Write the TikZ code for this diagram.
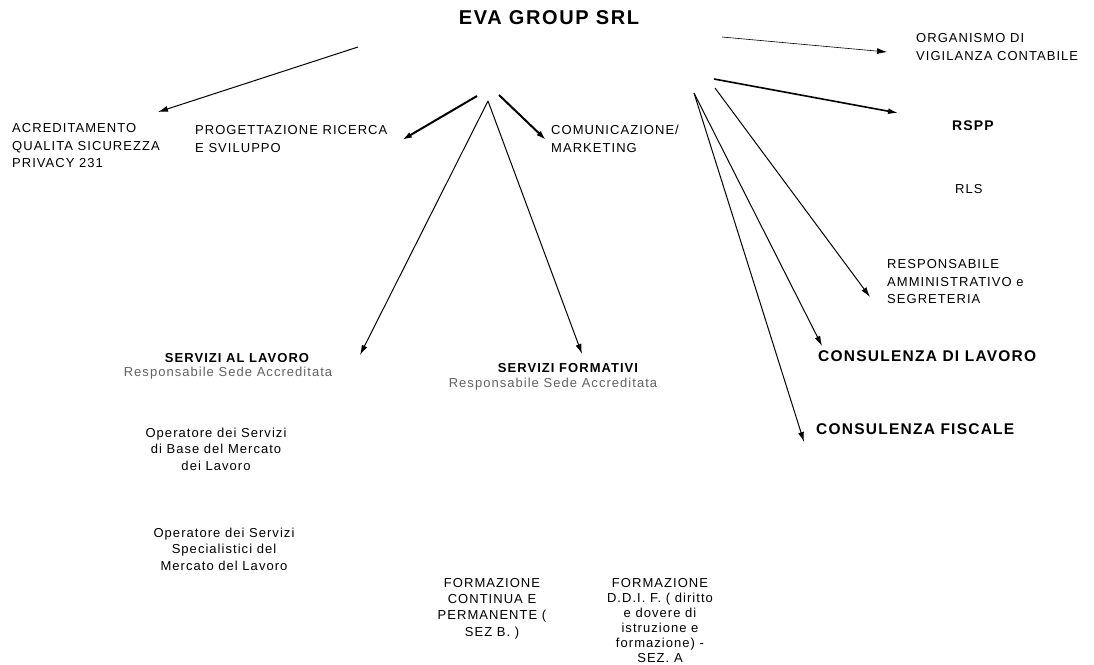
\documentclass[tikz,border=0pt]{standalone}
\usepackage{fontspec}
\setmainfont{Liberation Sans}[LetterSpace=8]
\usetikzlibrary{positioning, arrows.meta}

\tikzset{
  unit/.style={font=\fontsize{13}{17.8}\selectfont, inner sep=0pt, align=left, anchor=north west},
  block/.style={font=\fontsize{13}{16.3}\selectfont, inner sep=0pt, align=center, anchor=north},
  head/.style={font=\bfseries\fontsize{13}{15}\selectfont, inner sep=0pt},
  sub/.style={font=\fontsize{13}{15}\selectfont, inner sep=0pt, text=black!62},
  conn/.style={line width=1pt, -{Latex[length=10pt,width=6pt]}},
}

\begin{document}
\begin{tikzpicture}[x=1pt,y=-1pt]
\useasboundingbox (0,0) rectangle (1094,664);

% top
\node[inner sep=0pt, font=\bfseries\fontsize{20}{22}\selectfont] (eva) at (549,18) {EVA GROUP SRL};

% staff units
\node[unit] (acr) at (12,123) {ACREDITAMENTO\\QUALITA SICUREZZA\\PRIVACY 231};
\node[unit] (prog) at (195,125) {PROGETTAZIONE RICERCA\\E SVILUPPO};
\node[unit] (com) at (551,125) {COMUNICAZIONE/\\MARKETING};
\node[unit] (odv) at (916,33) {ORGANISMO DI\\VIGILANZA CONTABILE};
\node[unit, font=\bfseries\fontsize{14}{16}\selectfont] (rspp) at (952,121) {RSPP};
\node[unit] (rls) at (955,184) {RLS};
\node[unit] (amm) at (887,259) {RESPONSABILE\\AMMINISTRATIVO e\\SEGRETERIA};
\node[unit, font=\bfseries\fontsize{15.5}{18}\selectfont] (cdl) at (818,350) {CONSULENZA DI LAVORO};
\node[unit, font=\bfseries\fontsize{15.5}{18}\selectfont] (cfis) at (816,423) {CONSULENZA FISCALE};

% servizi
\node[head] (lav) at (237,358) {SERVIZI AL LAVORO};
\node[sub] (lavr) at (228,373) {Responsabile Sede Accreditata};
\node[head] (form) at (568,368) {SERVIZI FORMATIVI};
\node[sub] (formr) at (553,384) {Responsabile Sede Accreditata};

\node[block] (base) at (216,428) {Operatore dei Servizi\\di Base del Mercato\\dei Lavoro};
\node[block] (spec) at (224,528) {Operatore dei Servizi\\Specialistici del\\Mercato del Lavoro};
\node[block] (cont) at (492,578) {FORMAZIONE\\CONTINUA E\\PERMANENTE (\\SEZ B. )};
\node[block, font=\fontsize{13}{15}\selectfont] (ddif) at (660,578) {FORMAZIONE\\D.D.I. F. ( diritto\\e dovere di\\istruzione e\\formazione) -\\SEZ. A};

% arrow ends
\coordinate (hubA) at (358,47);
\coordinate (hubB) at (477,96);
\coordinate (hubC) at (499,95);
\coordinate (hubD) at (488,101);
\coordinate (hubE) at (722,37);
\coordinate (hubF) at (714,79);
\coordinate (hubG) at (715,88);
\coordinate (hubH) at (694,93);
\coordinate (toacr) at (158,112);
\coordinate (toprog) at (402,140);
\coordinate (tocom) at (546,140);
\coordinate (tolav) at (360,355);
\coordinate (toform) at (582,354);
\coordinate (toodv) at (887,52);
\coordinate (torspp) at (898,113);
\coordinate (toamm) at (870,297);
\coordinate (tocdl) at (822,346);
\coordinate (tocfis) at (804,442);

\draw[conn] (hubA) -- (toacr);
\draw[conn, line width=2pt] (hubB) -- (toprog);
\draw[conn, line width=2pt] (hubC) -- (tocom);
\draw[conn] (hubD) -- (tolav);
\draw[conn] (hubD) -- (toform);
\draw[conn, line width=0.6pt] (hubE) -- (toodv);
\draw[conn, line width=1.6pt] (hubF) -- (torspp);
\draw[conn] (hubG) -- (toamm);
\draw[conn] (hubH) -- (tocdl);
\draw[conn] (hubH) -- (tocfis);
\end{tikzpicture}
\end{document}
